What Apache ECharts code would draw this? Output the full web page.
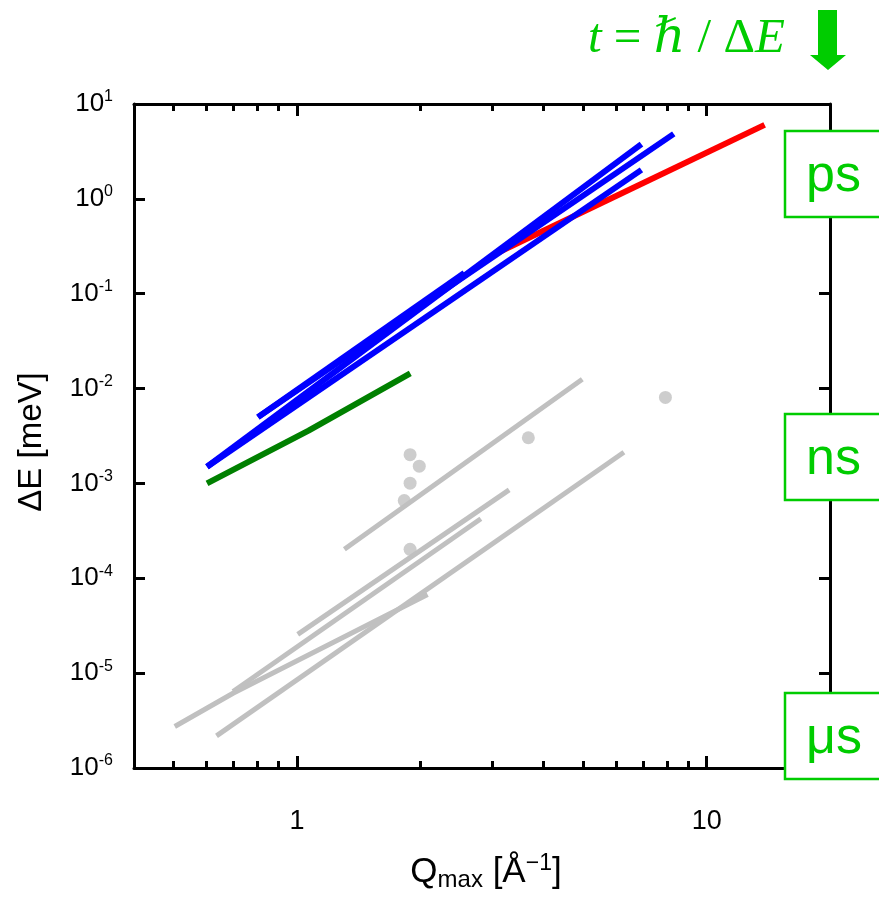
<!DOCTYPE html>
<html>
<head>
<meta charset="utf-8">
<script src="https://cdn.jsdelivr.net/npm/echarts@6/dist/echarts.min.js"></script>
<style>
  html, body { margin: 0; padding: 0; background: #ffffff; }
  #chart { width: 879px; height: 897px; }
</style>
</head>
<body>
<div id="chart"></div>
<script>
// ---- axis ticks ----
const xMajorTicks = [1, 10];
const xMinorTicks = [0.5, 0.6, 0.7, 0.8, 0.9, 2, 3, 4, 5, 6, 7, 8, 9, 20];
const yTicks = [1e-6, 1e-5, 1e-4, 1e-3, 1e-2, 1e-1, 1, 10];

// ---- blue instrument ranges: Q_max [1/Å] vs ΔE [meV] ----
const blue1Q = [0.603, 6.93];
const blue1E = [1.50e-3, 2.02];
const blue2Q = [0.603, 6.93];
const blue2E = [1.50e-3, 3.77];
const blue3Q = [0.803, 8.31];
const blue3E = [5.0e-3, 4.84];
const blue4Q = [0.803, 2.56];
const blue4E = [5.0e-3, 0.166];

// ---- red range ----
const redQ = [3.06, 13.85];
const redE = [0.265, 6.02];

// ---- green range ----
const greenQ = [0.603, 1.067, 1.89];
const greenE = [1.0e-3, 3.6e-3, 0.0145];

// ---- grey ranges ----
const grey1Q = [1.305, 4.97];
const grey1E = [2.02e-4, 0.01256];
const grey2Q = [1.004, 3.295];
const grey2E = [2.56e-5, 8.55e-4];
const grey3Q = [0.503, 0.698, 2.083];
const grey3E = [2.74e-6, 6.14e-6, 6.74e-5];
const grey4Q = [0.636, 6.28];
const grey4E = [2.18e-6, 2.13e-3];
const grey5Q = [0.698, 2.81];
const grey5E = [6.4e-6, 4.24e-4];

// ---- grey single points ----
const dotQ = [1.888, 1.988, 1.888, 1.827, 1.888, 3.67, 7.93];
const dotE = [2.01e-3, 1.52e-3, 1.007e-3, 6.6e-4, 2.02e-4, 3.03e-3, 8.07e-3];

// ---- time-scale labels ----
const timeLabels = ['ps', 'ns', 'μs'];

const FONT = '"Liberation Sans", Arial, Helvetica, sans-serif';
const SERIF = '"Liberation Serif", "DejaVu Serif", "Times New Roman", serif';
const BRIGHT_GREEN = '#00cc00';
const GREY = '#c0c0c0';

function pairs(q, e) {
  return q.map((x, i) => [x, e[i]]);
}

function lineSeries(q, e, color, width) {
  return {
    type: 'line',
    xAxisIndex: 0,
    yAxisIndex: 0,
    data: pairs(q, e),
    showSymbol: false,
    symbol: 'none',
    silent: true,
    lineStyle: { color: color, width: width, cap: 'butt', join: 'round' }
  };
}

const axisLineStyle = { color: '#000', width: 3 };

function xAxisDef(position, ticks, tickLen, withLabels, withLine) {
  return {
    type: 'log',
    logBase: 10,
    min: 0.4,
    max: 20,
    position: position,
    axisLine: { show: withLine, onZero: false, lineStyle: axisLineStyle },
    axisTick: {
      show: true, inside: true, length: tickLen,
      customValues: ticks,
      lineStyle: { color: '#000', width: 3 }
    },
    axisLabel: withLabels ? {
      show: true,
      customValues: ticks,
      margin: 40,
      fontSize: 27,
      fontFamily: FONT,
      color: '#000',
      formatter: function (v) { return String(Math.round(v)); }
    } : { show: false },
    splitLine: { show: false },
    minorTick: { show: false }
  };
}

function yAxisDef(position, withLabels) {
  return {
    type: 'log',
    logBase: 10,
    min: 1e-6,
    max: 10,
    position: position,
    axisLine: { show: true, onZero: false, lineStyle: axisLineStyle },
    axisTick: {
      show: true, inside: true, length: 11,
      customValues: yTicks,
      lineStyle: { color: '#000', width: 3 }
    },
    axisLabel: withLabels ? {
      show: true,
      customValues: yTicks,
      margin: 21,
      color: '#000',
      formatter: function (v) {
        const p = Math.round(Math.log10(v));
        return '{b|10}{s|' + p + '}';
      },
      rich: {
        b: { fontSize: 26, fontFamily: FONT, color: '#000', lineHeight: 30, verticalAlign: 'middle' },
        s: { fontSize: 16, fontFamily: FONT, color: '#000', lineHeight: 22, verticalAlign: 'top' }
      }
    } : { show: false },
    splitLine: { show: false },
    minorTick: { show: false }
  };
}

const bottomMain = xAxisDef('bottom', xMajorTicks, 12, true, true);
bottomMain.name = '{q|Q}{s|max}{q| [Å}{p|−1}{q|]}';
bottomMain.nameLocation = 'middle';
bottomMain.nameGap = 104;
bottomMain.nameTextStyle = {
  verticalAlign: 'middle',
  padding: [0, 0, 0, 8],
  rich: {
    q: { fontSize: 35, fontFamily: FONT, color: '#000', lineHeight: 40, verticalAlign: 'middle' },
    s: { fontSize: 24, fontFamily: FONT, color: '#000', lineHeight: 14, verticalAlign: 'bottom' },
    p: { fontSize: 23, fontFamily: FONT, color: '#000', lineHeight: 30, verticalAlign: 'top' }
  }
};

const leftMain = yAxisDef('left', true);
leftMain.name = 'ΔE [meV]';
leftMain.nameLocation = 'middle';
leftMain.nameRotate = 90;
leftMain.nameGap = 102;
leftMain.nameTextStyle = {
  fontSize: 33, fontFamily: FONT, color: '#000', verticalAlign: 'middle', align: 'center',
  padding: [0, 12, 0, 0]
};

const series = [
  lineSeries(grey1Q, grey1E, GREY, 5),
  lineSeries(grey2Q, grey2E, GREY, 5),
  lineSeries(grey3Q, grey3E, GREY, 5),
  lineSeries(grey4Q, grey4E, GREY, 5),
  lineSeries(grey5Q, grey5E, GREY, 5),
  {
    type: 'scatter',
    xAxisIndex: 0,
    yAxisIndex: 0,
    data: pairs(dotQ, dotE),
    symbol: 'circle',
    symbolSize: 13,
    silent: true,
    itemStyle: { color: GREY }
  },
  lineSeries(greenQ, greenE, '#008000', 6),
  lineSeries(redQ, redE, '#ff0000', 6),
  lineSeries(blue1Q, blue1E, '#0000ff', 6),
  lineSeries(blue2Q, blue2E, '#0000ff', 6),
  lineSeries(blue3Q, blue3E, '#0000ff', 6),
  lineSeries(blue4Q, blue4E, '#0000ff', 6)
];

// time-scale boxes on the right edge
const boxTops = [131, 414, 693];
const boxGraphics = [];
timeLabels.forEach(function (label, i) {
  boxGraphics.push({
    type: 'rect',
    z: 100,
    shape: { x: 785, y: boxTops[i], width: 130, height: 86 },
    style: { fill: '#ffffff', stroke: BRIGHT_GREEN, lineWidth: 2.5 }
  });
  boxGraphics.push({
    type: 'text',
    z: 101,
    x: 806,
    y: boxTops[i] + 46,
    style: {
      text: label,
      fontSize: 52,
      fontFamily: FONT,
      fill: BRIGHT_GREEN,
      align: 'left',
      verticalAlign: 'middle'
    }
  });
});

const chart = echarts.init(document.getElementById('chart'), null, { renderer: 'canvas' });
chart.setOption({
  backgroundColor: '#ffffff',
  animation: false,
  grid: { left: 134, right: 49, top: 104, bottom: 127, containLabel: false },
  xAxis: [
    bottomMain,
    xAxisDef('bottom', xMinorTicks, 7, false, false),
    xAxisDef('top', xMajorTicks, 12, false, true),
    xAxisDef('top', xMinorTicks, 7, false, false)
  ],
  yAxis: [
    leftMain,
    yAxisDef('right', false)
  ],
  series: series,
  graphic: [
    {
      type: 'text',
      x: 588,
      y: 39,
      style: {
        text: '{i|t}{r| = }{i|ℏ}{r| / Δ}{i|E}',
        fill: BRIGHT_GREEN,
        verticalAlign: 'middle',
        align: 'left',
        rich: {
          i: { fontSize: 49, fontFamily: SERIF, fontStyle: 'italic', fill: BRIGHT_GREEN },
          r: { fontSize: 49, fontFamily: SERIF, fill: BRIGHT_GREEN }
        }
      }
    },
    {
      type: 'polygon',
      shape: {
        points: [[818, 10], [837, 10], [837, 55], [846, 55], [828, 70], [810, 55], [818, 55]]
      },
      style: { fill: BRIGHT_GREEN }
    }
  ].concat(boxGraphics)
});
</script>
</body>
</html>
